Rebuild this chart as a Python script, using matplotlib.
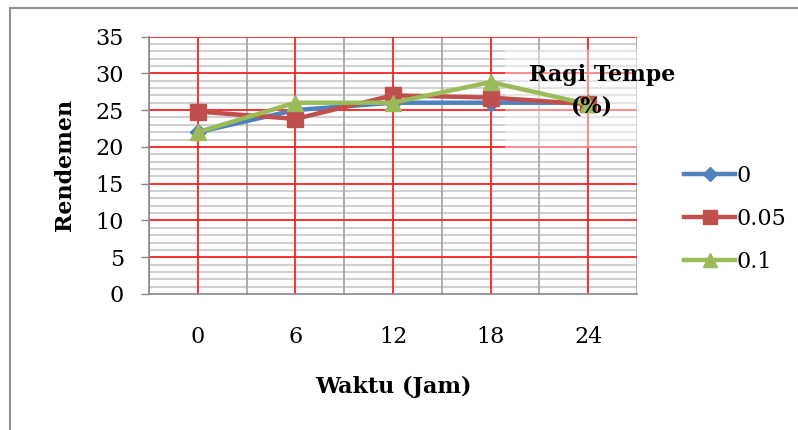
import numpy as np
import matplotlib.pyplot as plt
from matplotlib.patches import Rectangle
from matplotlib.lines import Line2D

# Data
waktu = ['0', '6', '12', '18', '24']
ragi_0 = [22, 25, 26, 26, 26]
ragi_005 = [24.8, 23.8, 27, 26.7, 25.8]
ragi_01 = [22, 26, 26, 28.8, 25.8]
series_labels = ['0', '0.05', '0.1']

plt.rcParams['font.family'] = ['DejaVu Serif']

fig = plt.figure(figsize=(7.98, 4.30), dpi=100)
ax = fig.add_axes([149/798, 1-294/430, (637-149)/798, (294-36.5)/430])

x = np.arange(len(waktu))

# gridlines
for yv in range(0, 36):
    if yv % 5 != 0:
        ax.axhline(yv, color='#d0d0d0', lw=1.5, zorder=1)
for xv in np.arange(-0.5, 4.6, 1.0):
    ax.axvline(xv, color='#a8a8a8', lw=1.3, zorder=1)
for yv in range(5, 36, 5):
    ax.axhline(yv, color='#ff2020', lw=1.3, zorder=2)
for xv in x:
    ax.axvline(xv, color='#ff2020', lw=1.3, zorder=2)

# faded box behind the legend title
ax.add_patch(Rectangle((505/798, 1-148/430), 140/798, 98/430, transform=fig.transFigure,
                       facecolor='white', alpha=0.45, edgecolor='none', zorder=3))

colors = ['#4f81bd', '#c0504d', '#9bbb59']
markers = ['D', 's', '^']
msizes = [8, 12, 12]
for vals, c, m, ms, lab in zip([ragi_0, ragi_005, ragi_01], colors, markers, msizes, series_labels):
    ax.plot(x, vals, color=c, marker=m, markersize=ms, lw=3.2, label=lab, zorder=5)

ax.set_xlim(-0.5, 4.5)
ax.set_ylim(0, 35)
ax.set_yticks(range(0, 36, 5))
ax.set_xticks(x)
ax.set_xticklabels(waktu)
ax.tick_params(axis='y', length=6, width=1, color='#888888', labelsize=16, pad=12)
ax.tick_params(axis='x', length=0, labelsize=16, pad=23)
for s in ['top', 'right']:
    ax.spines[s].set_visible(False)
for s in ['left', 'bottom']:
    ax.spines[s].set_color('#888888')
    ax.spines[s].set_linewidth(1.2)

ax.set_xlabel('Waktu (Jam)', fontsize=16, fontweight='bold', labelpad=20)
ax.set_ylabel('Rendemen', fontsize=16, fontweight='bold', labelpad=14)

fig.text(602/798, 1-75/430, 'Ragi Tempe', ha='center', va='center', fontsize=16, fontweight='bold', zorder=10)
fig.text(592/798, 1-106/430, '(%)', ha='center', va='center', fontsize=16, fontweight='bold', zorder=10)

handles = [Line2D([0], [0], color=c, marker=m, markersize=ms * 0.85, lw=3.2)
           for c, m, ms in zip(colors, markers, msizes)]
fig.legend(handles, series_labels, loc='upper left', bbox_to_anchor=(664/798, 1-145/430),
           frameon=False, fontsize=16, handlelength=2.3, labelspacing=0.95, handletextpad=0.05)

# outer frame lines (top and left visible)
fig.add_artist(Line2D([10/798, 1], [1-8/430, 1-8/430], transform=fig.transFigure, color='#909090', lw=1.5))
fig.add_artist(Line2D([10/798, 10/798], [0, 1-8/430], transform=fig.transFigure, color='#909090', lw=1.5))

fig.savefig('out.png', dpi=100)
